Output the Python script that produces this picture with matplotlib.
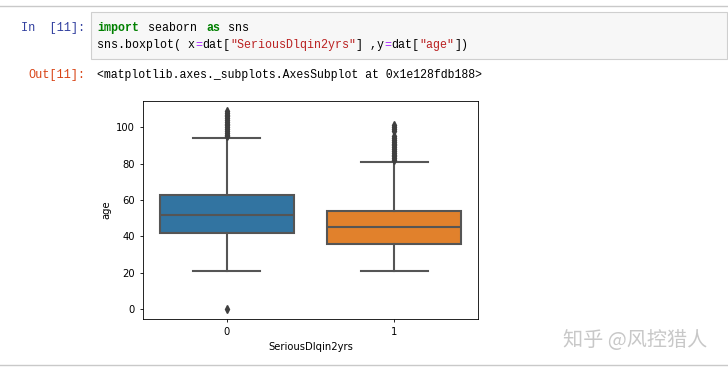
import matplotlib
matplotlib.use("Agg")
import matplotlib.pyplot as plt
from matplotlib.patches import Rectangle

# ---------------- data ----------------
categories = ["0", "1"]
q1 = [42, 36]
median = [52, 45]
q3 = [63, 54]
whisker_low = [21, 21]
whisker_high = [94, 81]
fliers_0 = [0] + list(range(95, 110))
fliers_1 = list(range(82, 96)) + [98, 99, 100, 101]
fliers = [fliers_0, fliers_1]
colors = ["#3274a1", "#e1812c"]
yticks = [0, 20, 40, 60, 80, 100]

W, H, DPI = 728, 369, 100
fig = plt.figure(figsize=(W / DPI, H / DPI), dpi=DPI)
fig.patch.set_facecolor("white")

# ---------------- notebook chrome (pixel coords) ----------------
bg = fig.add_axes([0, 0, 1, 1])
bg.set_xlim(0, W)
bg.set_ylim(H, 0)
bg.axis("off")

bg.plot([0, W], [6, 6], color="#c9c9c9", lw=1.0)
bg.plot([0, W], [365, 365], color="#c9c9c9", lw=1.0)
bg.add_patch(Rectangle((91, 12), 636, 47, facecolor="#f7f7f7",
                       edgecolor="#cfcfcf", lw=0.8))

mono = "Liberation Mono"
fs = 8.35
cw = 7.0
bg.text(85, 28, "In  [11]:", color="#303F9F", family=mono, fontsize=8.6,
        ha="right", va="center")
bg.text(85, 75, "Out[11]:", color="#D84315", family=mono, fontsize=8.6,
        ha="right", va="center")

def code_line(tokens, y, x0=97, step=cw):
    i = 0
    for txt, col, bold in tokens:
        bg.text(x0 + i * step, y, txt, color=col, family=mono, fontsize=fs,
                fontweight="bold" if bold else "normal", ha="left", va="center")
        i += len(txt)

K = "#000000"; G = "#008000"; P = "#AA22FF"; R = "#BA2121"
code_line([("import", G, True), (" seaborn ", K, False), ("as", G, True),
           (" sns", K, False)], 28, step=7.3)
code_line([("sns.boxplot( x", K, False), ("=", P, False), ("dat[", K, False),
           ('"SeriousDlqin2yrs"', R, False), ("] ,y", K, False), ("=", P, False),
           ("dat[", K, False), ('"age"', R, False), ("])", K, False)], 45)
bg.text(97, 75, "<matplotlib.axes._subplots.AxesSubplot at 0x1e128fdb188>",
        color="#000000", family=mono, fontsize=8.3, ha="left", va="center")

bg.text(563, 340, "知乎 @风控猎人", color="#c8c8c8",
        family=["Noto Sans CJK SC", "DejaVu Sans"], fontsize=14.5,
        ha="left", va="center")

# ---------------- boxplot ----------------
ax = fig.add_axes([143 / W, 1 - 319 / H, 335 / W, 218 / H])
stats = []
for i in range(len(categories)):
    stats.append(dict(med=median[i], q1=q1[i], q3=q3[i],
                      whislo=whisker_low[i], whishi=whisker_high[i],
                      fliers=fliers[i], label=categories[i]))

gray = "#555555"
fgray = "#3f3f3f"
lw = 1.5
bp = ax.bxp(stats, positions=range(len(categories)), widths=0.8,
            patch_artist=True, showfliers=True,
            boxprops=dict(edgecolor=gray, linewidth=lw),
            medianprops=dict(color=gray, linewidth=lw),
            whiskerprops=dict(color=gray, linewidth=lw),
            capprops=dict(color=gray, linewidth=lw),
            flierprops=dict(marker="d", markerfacecolor=fgray,
                            markeredgecolor=fgray, markersize=4.2,
                            linestyle="none"))
for patch, c in zip(bp["boxes"], colors):
    patch.set_facecolor(c)

ax.set_xlim(-0.5, 1.5)
ax.set_ylim(-5.45, 114.45)
ax.set_yticks(yticks)
ax.set_xticks(range(len(categories)))
ax.set_xticklabels(categories)
tfs = 7.2
ax.tick_params(labelsize=tfs, length=2.5, width=0.6)
for s in ax.spines.values():
    s.set_linewidth(0.6)
ax.set_xlabel("SeriousDlqin2yrs", fontsize=tfs, labelpad=3)
ax.set_ylabel("age", fontsize=tfs, labelpad=3)

fig.savefig("out.png", dpi=DPI)
